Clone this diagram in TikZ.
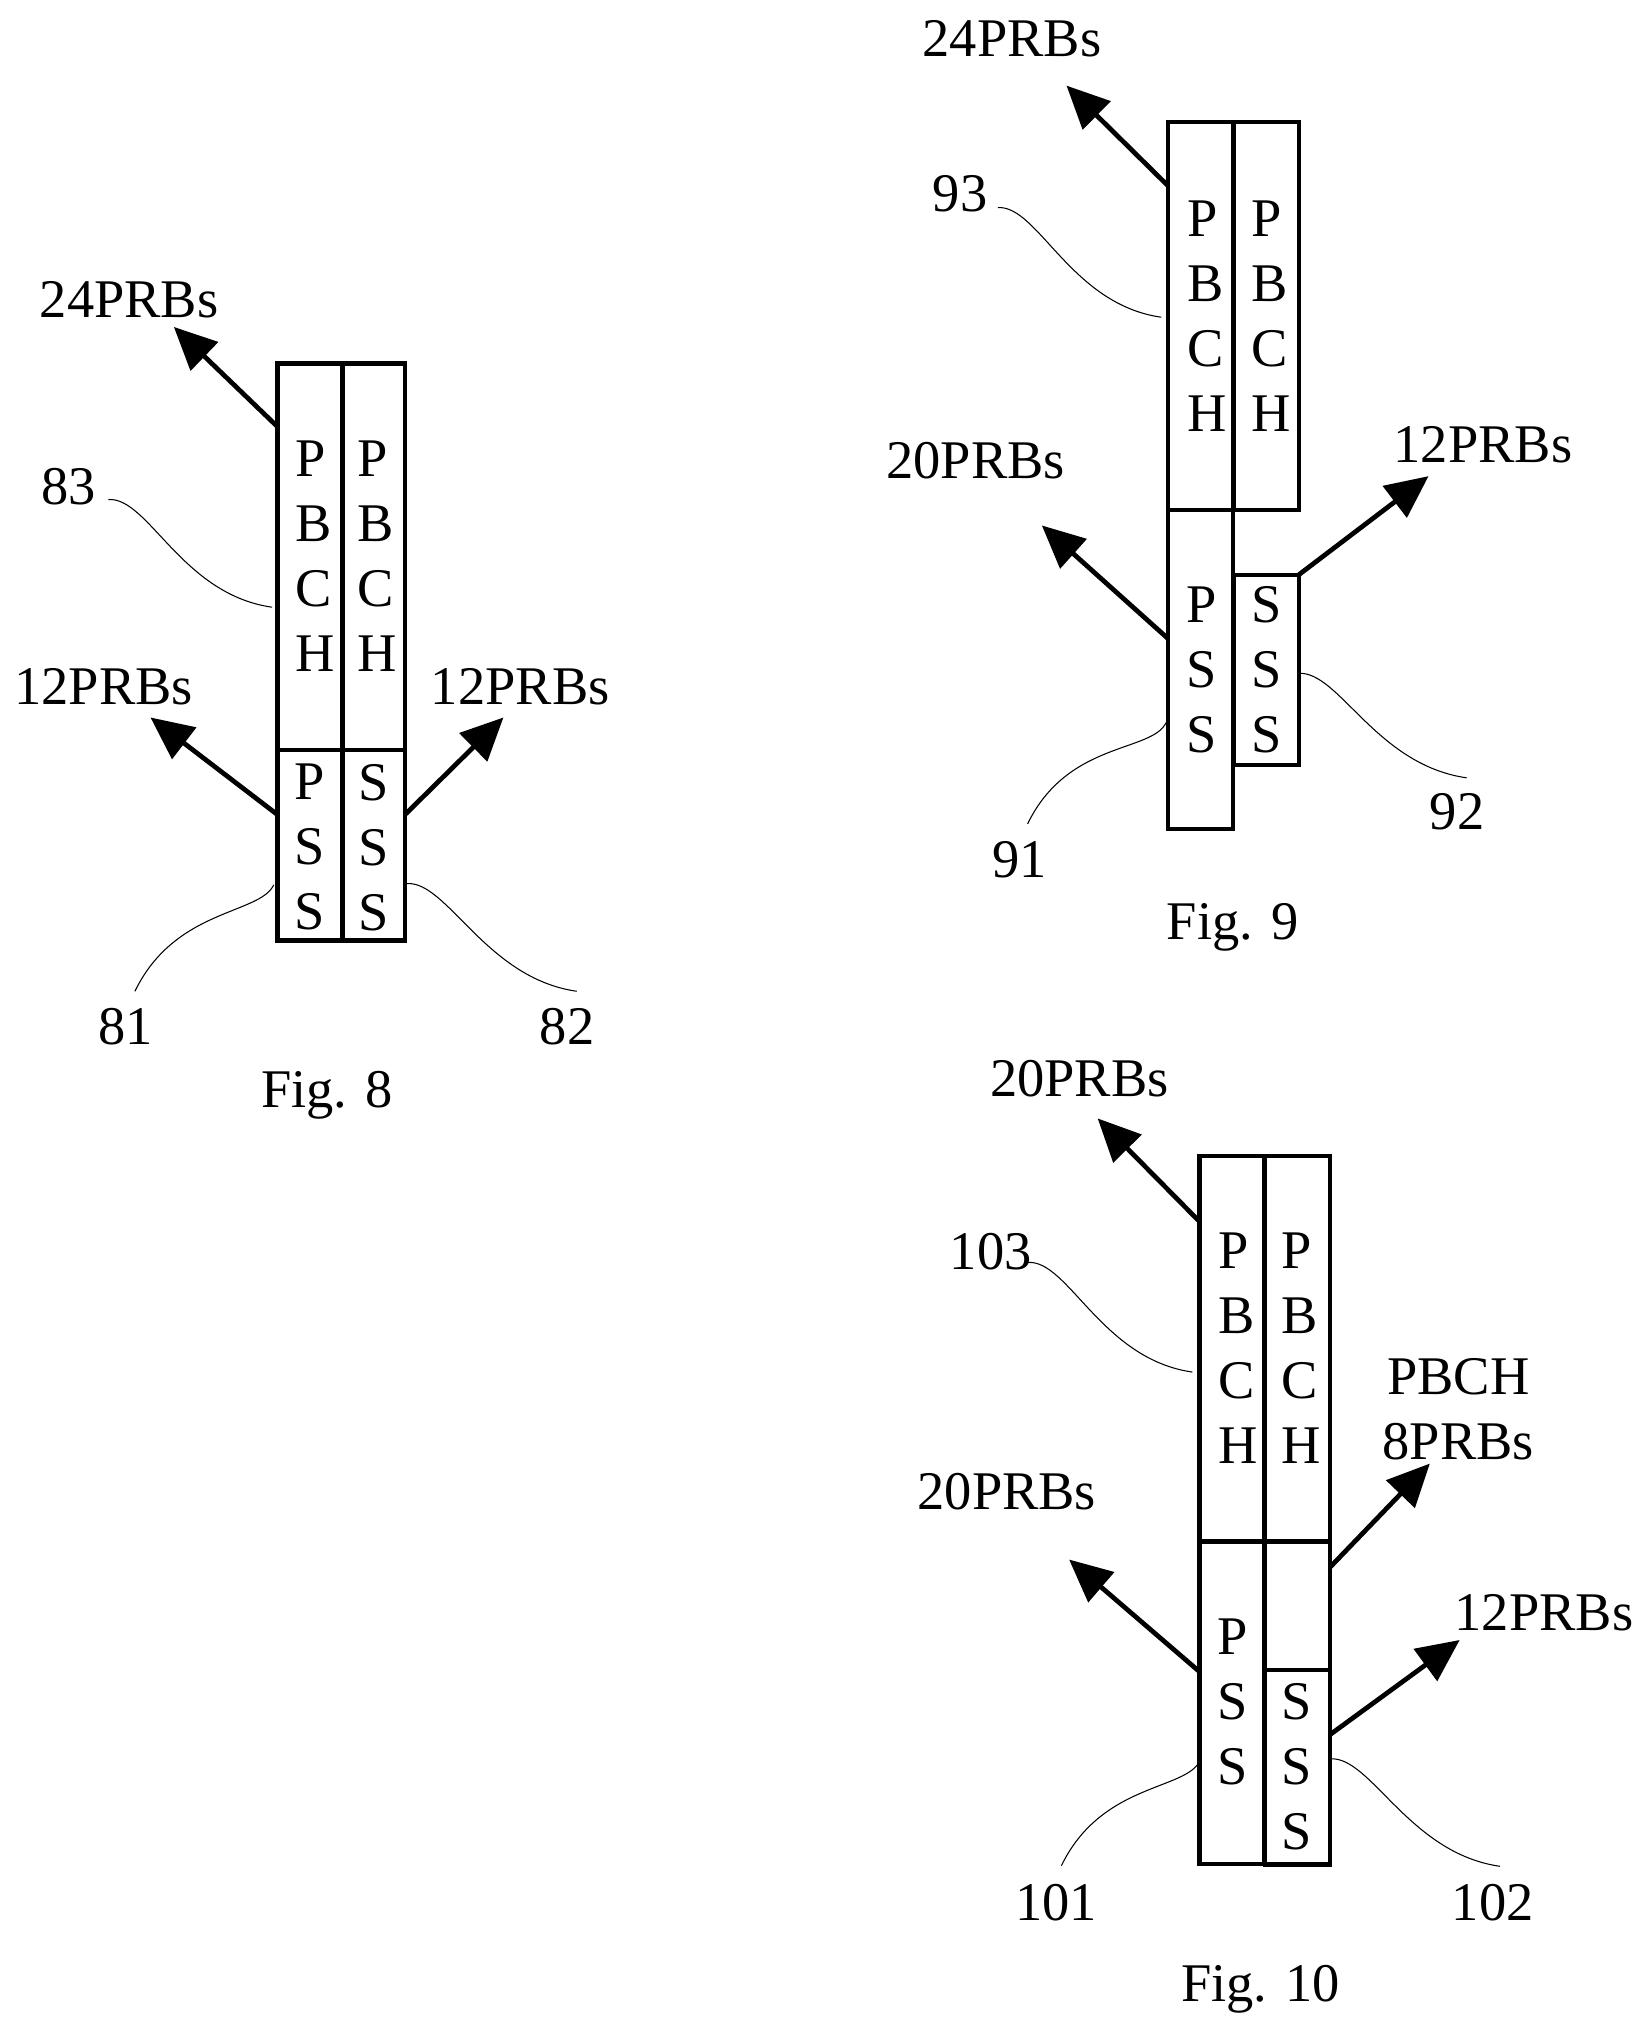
\documentclass[tikz,border=0pt]{standalone}
\usepackage{fontspec}
\setmainfont{Liberation Serif}
\usetikzlibrary{arrows.meta}
\tikzset{
         cell/.style={draw=black,line width=2.4pt,inner sep=0pt,outer sep=0pt,minimum width=1.3cm},
         lett/.style={font=\fontsize{31}{37}\selectfont,align=left,inner sep=0pt},
         lbl/.style={font=\fontsize{31}{37}\selectfont,inner sep=0pt,align=center},
         parrow/.style={line width=2.7pt,-{Triangle[length=.85cm,width=.78cm]}},
         leader/.style={line width=.6pt}
        }

\begin{document}
\begin{tikzpicture}[x=.02595cm,y=-.02595cm]
\useasboundingbox (0,0) rectangle (1272.4,1566.9);

%Fig. 8
\node[cell,minimum height=7.73cm] (c8a) at (239,429){}; %PBCH left
\node[cell,minimum height=7.73cm,minimum width=1.25cm] (c8b) at (288,429){}; %PBCH right
\node[cell,minimum height=3.81cm] (c8c) at (239,651.5){}; %PSS
\node[cell,minimum height=3.81cm,minimum width=1.25cm] (c8d) at (288,651.5){}; %SSS
\node[lett] (t8a) at (243,429){P\\B\\C\\H};
\node[lett] (t8b) at (291,429){P\\B\\C\\H};
\node[lett] (t8c) at (239,653){P\\S\\S};
\node[lett] (t8d) at (288,653){S\\S\\S};
\coordinate (a8a) at (214,329); \coordinate (b8a) at (134,252);
\coordinate (a8b) at (214,628); \coordinate (b8b) at (116,553);
\coordinate (a8c) at (312,628); \coordinate (b8c) at (388,553);
\draw[parrow](a8a)--(b8a);
\draw[parrow](a8b)--(b8b);
\draw[parrow](a8c)--(b8c);
\coordinate (l83a) at (83.5,385); \coordinate (l83b) at (209.7,468);
\coordinate (l81a) at (211,682); \coordinate (l81b) at (104,764);
\coordinate (l82a) at (313.7,681); \coordinate (l82b) at (444.5,764);
\draw[leader](l83a).. controls +(31,-2) and +(-70,-10) ..(l83b);
\draw[leader](l81a).. controls +(-11,23) and +(31,-64) ..(l81b);
\draw[leader](l82a).. controls +(31,-2) and +(-70,-10) ..(l82b);
\node[lbl] (n8a) at (99.5,231){24PRBs};
\node[lbl] (n8b) at (80,529){12PRBs};
\node[lbl] (n8c) at (401,529){12PRBs};
\node[lbl] (n83) at (53,375){83};
\node[lbl] (n81) at (97,791){81};
\node[lbl] (n82) at (437,791){82};
\node[lbl] (f8) at (252,844.5){Fig. 8};

%Fig. 9
\node[cell,minimum height=7.75cm] (c9a) at (925.5,243.5){}; %PBCH left
\node[cell,minimum height=7.75cm] (c9b) at (976,243.5){}; %PBCH right
\node[cell,minimum height=6.38cm] (c9c) at (925.5,516){}; %PSS
\node[cell,minimum height=3.81cm] (c9d) at (976,516.5){}; %SSS
\node[lett] (t9a) at (930.5,243.5){P\\B\\C\\H};
\node[lett] (t9b) at (979.5,243.5){P\\B\\C\\H};
\node[lett] (t9c) at (926,516.5){P\\S\\S};
\node[lett] (t9d) at (976,516.5){S\\S\\S};
\coordinate (a9a) at (900,143); \coordinate (b9a) at (822,66);
\coordinate (a9b) at (900,492); \coordinate (b9b) at (803,405);
\coordinate (a9c) at (1001,443); \coordinate (b9c) at (1101,367);
\draw[parrow](a9a)--(b9a);
\draw[parrow](a9b)--(b9b);
\draw[parrow](a9c)--(b9c);
\coordinate (l93a) at (769,160); \coordinate (l93b) at (895,244.5);
\coordinate (l91a) at (898.7,557); \coordinate (l91b) at (792,635);
\coordinate (l92a) at (1000.9,519); \coordinate (l92b) at (1130.4,599.5);
\draw[leader](l93a).. controls +(31,-2) and +(-70,-10) ..(l93b);
\draw[leader](l91a).. controls +(-11,23) and +(31,-64) ..(l91b);
\draw[leader](l92a).. controls +(31,-2) and +(-70,-10) ..(l92b);
\node[lbl] (n9a) at (780,30){24PRBs};
\node[lbl] (n9b) at (752,355){20PRBs};
\node[lbl] (n9c) at (1143,343){12PRBs};
\node[lbl] (n93) at (740,149){93};
\node[lbl] (n91) at (786,663){91};
\node[lbl] (n92) at (1123,625.5){92};
\node[lbl] (f9) at (950,715){Fig. 9};

%Fig. 10
\node[cell,minimum height=7.7cm] (c10a) at (949.5,1039.5){}; %PBCH left
\node[cell,minimum height=7.7cm] (c10b) at (1000,1039.5){}; %PBCH right
\node[cell,minimum height=6.45cm] (c10c) at (949.5,1312.5){}; %PSS
\node[cell,minimum height=2.57cm] (c10d) at (1000,1237.5){}; %empty part
\node[cell,minimum height=3.89cm] (c10e) at (1000,1362){}; %SSS
\node[lett] (t10a) at (954,1039){P\\B\\C\\H};
\node[lett] (t10b) at (1003,1039){P\\B\\C\\H};
\node[lett] (t10c) at (950,1312){P\\S\\S};
\node[lett] (t10e) at (999,1362){S\\S\\S};
\coordinate (a10a) at (924,941); \coordinate (b10a) at (846,862);
\coordinate (a10b) at (924,1288); \coordinate (b10b) at (824,1202);
\coordinate (a10c) at (1025,1208); \coordinate (b10c) at (1102,1128);
\coordinate (a10d) at (1025,1337); \coordinate (b10d) at (1125,1264);
\draw[parrow](a10a)--(b10a);
\draw[parrow](a10b)--(b10b);
\draw[parrow](a10c)--(b10c);
\draw[parrow](a10d)--(b10d);
\coordinate (l103a) at (792.3,973); \coordinate (l103b) at (919,1057.5);
\coordinate (l101a) at (924.9,1357); \coordinate (l101b) at (818,1438);
\coordinate (l102a) at (1025.5,1355.6); \coordinate (l102b) at (1156,1438.4);
\draw[leader](l103a).. controls +(31,-2) and +(-70,-10) ..(l103b);
\draw[leader](l101a).. controls +(-11,23) and +(31,-64) ..(l101b);
\draw[leader](l102a).. controls +(31,-2) and +(-70,-10) ..(l102b);
\node[lbl] (n10a) at (832,831){20PRBs};
\node[lbl] (n10b) at (776,1150){20PRBs};
\node[lbl] (n10c) at (1124,1086){PBCH\\8PRBs};
\node[lbl] (n10d) at (1190,1243){12PRBs};
\node[lbl] (n103) at (763.5,965){103};
\node[lbl] (n101) at (814,1466.5){101};
\node[lbl] (n102) at (1150.5,1466.5){102};
\node[lbl] (f10) at (971.5,1533){Fig. 10};

\end{tikzpicture}
\end{document}
